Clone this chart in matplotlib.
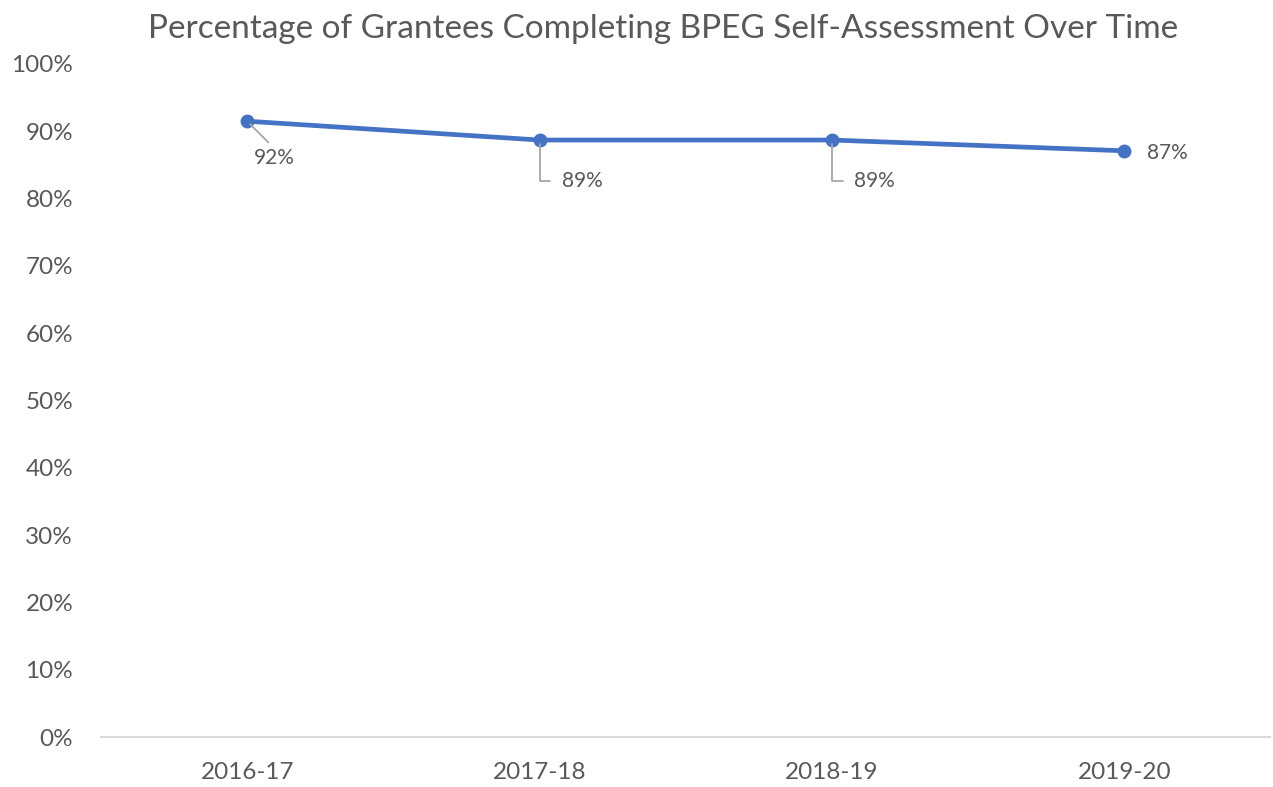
import matplotlib
matplotlib.use('Agg')
import matplotlib.pyplot as plt
from matplotlib.ticker import PercentFormatter

years = ['2016-17', '2017-18', '2018-19', '2019-20']
completion = [0.915, 0.887, 0.887, 0.871]
labels = ['92%', '89%', '89%', '87%']

plt.rcParams['font.family'] = ['Lato', 'DejaVu Sans']
grey = '#595959'
blue = '#4472C4'

fig = plt.figure(figsize=(12.73, 7.87), dpi=100)
ax = fig.add_axes([0.0793, 0.0635, 0.9187, 0.8552])

x = list(range(len(years)))
ax.plot(x, completion, color=blue, lw=3.4, marker='o', ms=9, zorder=3,
        solid_capstyle='round')

# data labels with Excel style leader lines
lead = dict(arrowstyle='-', color='#A6A6A6', lw=1.3)
ax.annotate(labels[0], (x[0], completion[0]), xytext=(27, -37), textcoords='offset pixels',
            ha='center', va='center', fontsize=15, color=grey,
            arrowprops=dict(lead, relpos=(0.5, 1.0), shrinkA=3, shrinkB=3))
for i in (1, 2):
    ax.annotate(labels[i], (x[i], completion[i]), xytext=(22, -41), textcoords='offset pixels',
                ha='left', va='center', fontsize=15, color=grey,
                arrowprops=dict(lead, relpos=(0, 0.5), shrinkA=6, shrinkB=3,
                                connectionstyle='angle,angleA=0,angleB=90,rad=0'))
ax.annotate(labels[3], (x[3], completion[3]), xytext=(23, -2), textcoords='offset pixels',
            ha='left', va='center', fontsize=15, color=grey)

ax.set_xlim(-0.5, 3.5)
ax.set_ylim(0, 1.0)
ax.set_yticks([i / 10 for i in range(11)])
ax.yaxis.set_major_formatter(PercentFormatter(1.0, decimals=0))
ax.set_xticks(x)
ax.set_xticklabels(years)
ax.tick_params(axis='both', length=0, labelsize=17.5, colors=grey)
ax.tick_params(axis='x', pad=18)
ax.tick_params(axis='y', pad=20)
for s in ('top', 'right', 'left'):
    ax.spines[s].set_visible(False)
ax.spines['bottom'].set_color('#D9D9D9')
ax.spines['bottom'].set_linewidth(1.5)

fig.text(0.521, 0.963, 'Percentage of Grantees Completing BPEG Self-Assessment Over Time',
         ha='center', va='center', fontsize=24, color=grey)

fig.savefig('out.png', dpi=100)
